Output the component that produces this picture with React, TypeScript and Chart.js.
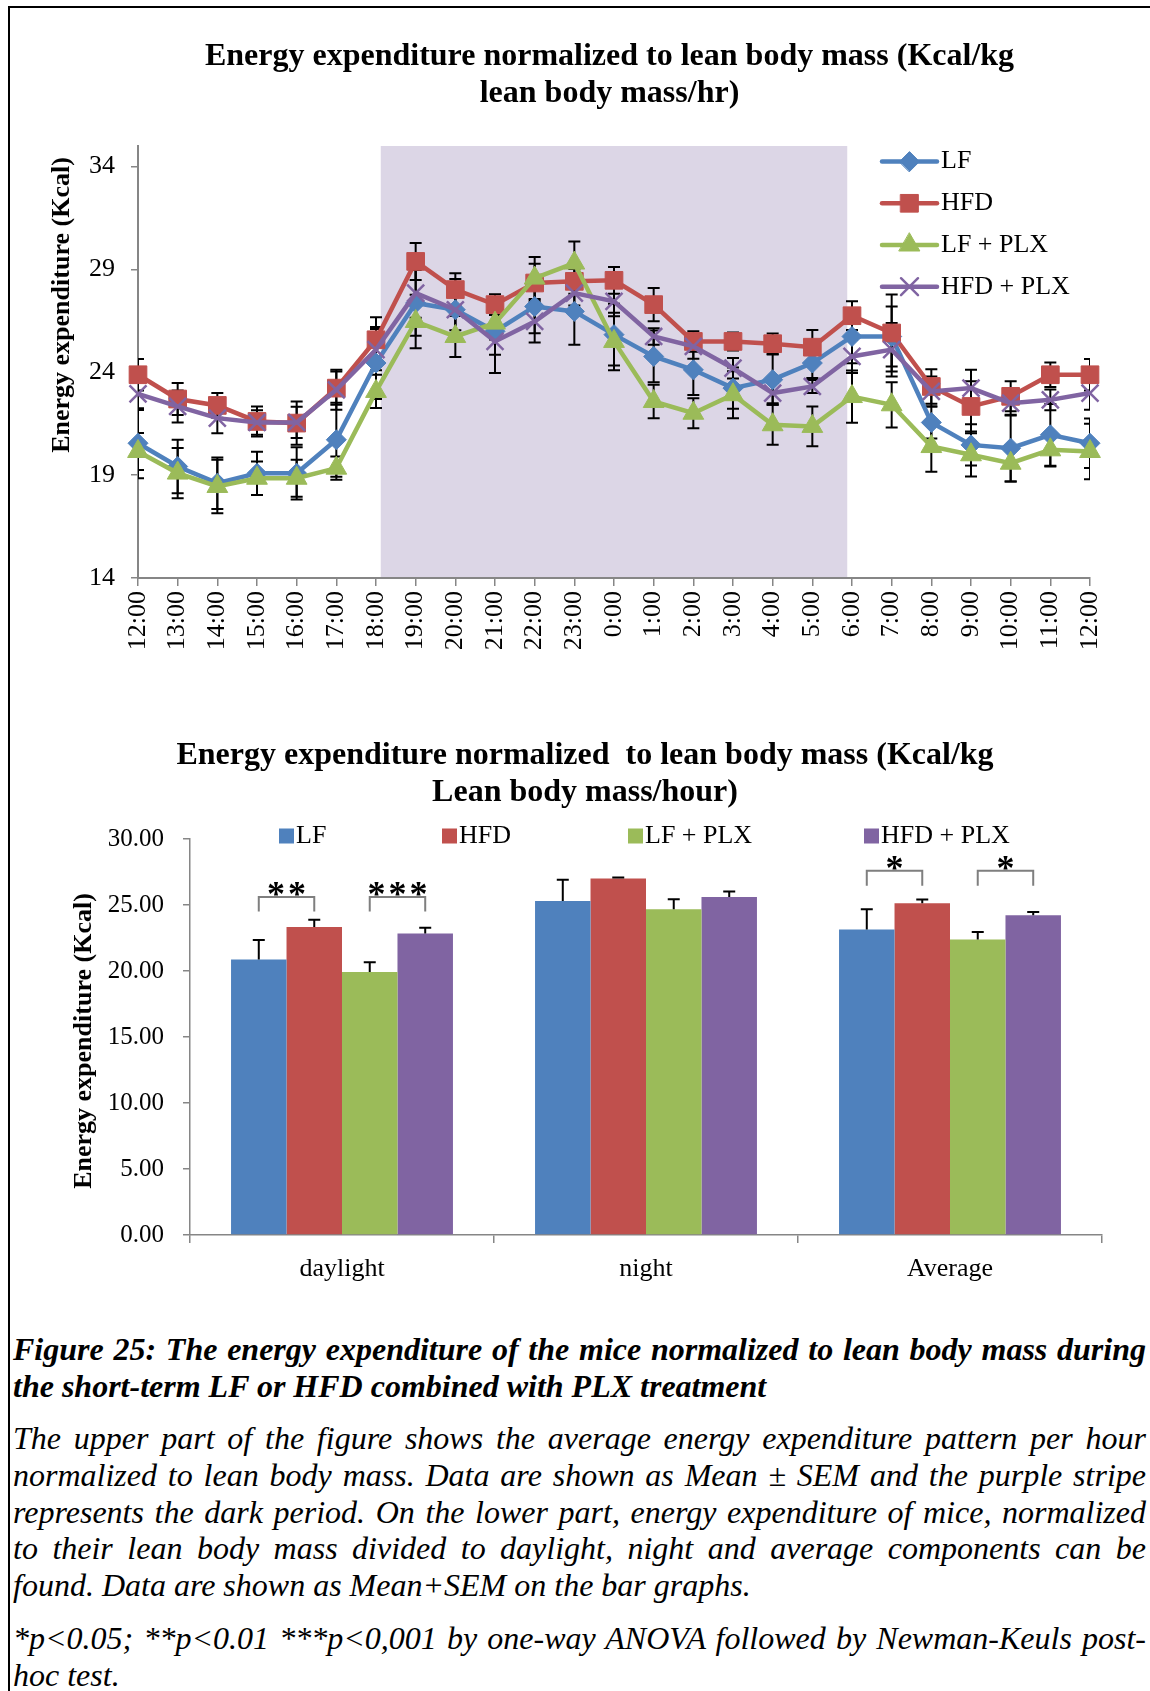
import React, { useEffect, useRef } from 'react';
import { Chart, registerables } from 'chart.js';
import { drawPoint } from 'chart.js/helpers';

Chart.register(...registerables);

// ---------------- data: hourly line chart ----------------
const hours = ['12:00', '13:00', '14:00', '15:00', '16:00', '17:00', '18:00', '19:00', '20:00', '21:00', '22:00', '23:00', '0:00', '1:00', '2:00', '3:00', '4:00', '5:00', '6:00', '7:00', '8:00', '9:00', '10:00', '11:00', '12:00'];
const seriesNames = ['LF', 'HFD', 'LF + PLX', 'HFD + PLX'];

const lf = [20.55, 19.42, 18.61, 19.09, 19.09, 20.72, 24.45, 27.37, 27.04, 25.99, 27.2, 26.96, 25.83, 24.77, 24.12, 23.23, 23.64, 24.45, 25.74, 25.74, 21.56, 20.47, 20.31, 20.96, 20.55];
const hfd = [23.88, 22.7, 22.39, 21.61, 21.53, 23.23, 25.58, 29.39, 28.02, 27.29, 28.34, 28.42, 28.47, 27.29, 25.5, 25.5, 25.39, 25.22, 26.75, 25.91, 23.31, 22.34, 22.83, 23.88, 23.88];
const lfPlx = [20.15, 19.1, 18.45, 18.85, 18.85, 19.34, 23.07, 26.47, 25.74, 26.39, 28.58, 29.31, 25.5, 22.58, 22.01, 22.91, 21.45, 21.37, 22.82, 22.42, 20.39, 19.99, 19.58, 20.23, 20.15];
const hfdPlx = [22.95, 22.34, 21.77, 21.56, 21.56, 23.15, 25.1, 27.85, 27.04, 25.5, 26.47, 27.85, 27.45, 25.74, 25.26, 24.2, 22.99, 23.31, 24.77, 25.1, 23.07, 23.23, 22.5, 22.66, 22.99];

const lfErr = [1.7, 1.3, 1.25, 1.05, 1.27, 1.8, 1.75, 1.6, 1.5, 1.14, 1.3, 1.62, 1.5, 1.26, 1.22, 1.0, 1.22, 0.73, 1.3, 1.46, 0.78, 1.0, 1.62, 1.5, 1.2];
const hfdErr = [0.76, 0.78, 0.6, 0.73, 1.05, 0.81, 1.1, 0.9, 0.8, 0.5, 0.94, 0.6, 0.65, 0.81, 0.5, 0.44, 0.5, 0.84, 0.7, 1.87, 0.84, 1.22, 0.73, 0.6, 0.76];
const lfPlxErr = [0.9, 1.22, 1.3, 0.81, 0.9, 0.57, 0.81, 1.3, 1.0, 0.8, 1.02, 1.05, 1.4, 0.81, 0.73, 1.14, 0.97, 0.97, 1.27, 1.1, 1.22, 1.05, 0.89, 0.81, 1.35];
const hfdPlxErr = [0.78, 0.78, 0.73, 0.6, 0.76, 0.97, 1.0, 1.2, 1.0, 1.54, 1.02, 0.6, 0.73, 0.4, 0.6, 0.5, 0.49, 0.32, 0.81, 1.3, 0.73, 0.89, 0.6, 0.5, 0.81];

const topYTicks = [14, 19, 24, 29, 34];
const darkStartIndex = 6; // 18:00
const darkEndIndex = 18; // 6:00

// ---------------- data: bar chart ----------------
const periods = ['daylight', 'night', 'Average'];
const barLF = [20.87, 25.31, 23.15];
const barHFD = [23.33, 27.01, 25.13];
const barLFPLX = [19.93, 24.68, 22.39];
const barHFDPLX = [22.85, 25.61, 24.22];
const barLFErr = [1.47, 1.6, 1.53];
const barHFDErr = [0.56, 0.07, 0.28];
const barLFPLXErr = [0.74, 0.76, 0.56];
const barHFDPLXErr = [0.43, 0.41, 0.25];

// significance brackets
const sigGroup = [0, 0, 2, 2];
const sigFrom = [0, 2, 0, 2];
const sigTo = [1, 3, 1, 3];
const sigLabel = ['**', '***', '*', '*'];
const sigTop = [25.6, 25.6, 27.6, 27.6];
const sigLeg = [24.5, 24.5, 26.45, 26.45];

// ---------------- text ----------------
const topTitle = ['Energy expenditure normalized to lean body mass (Kcal/kg', 'lean body mass/hr)'];
const barTitle = ['Energy expenditure normalized  to lean body mass (Kcal/kg', 'Lean body mass/hour)'];
const yTitleText = 'Energy expenditure (Kcal)';
const captionLines = ['Figure 25: The energy expenditure of the mice normalized to lean body mass during', 'the short-term LF or HFD combined with PLX treatment'];
const bodyLines = [
  'The upper part of the figure shows the average energy expenditure pattern per hour',
  'normalized to lean body mass. Data are shown as Mean \u00b1 SEM and the purple stripe',
  'represents the dark period. On the lower part, energy expenditure of mice, normalized',
  'to their lean body mass divided to daylight, night and average components can be',
  'found. Data are shown as Mean+SEM on the bar graphs.',
];
const noteLines = ['*p<0.05; **p<0.01 ***p<0,001 by one-way ANOVA followed by Newman-Keuls post-', 'hoc test.'];

// ---------------- styles ----------------
const FONT = "'Liberation Serif', 'Times New Roman', serif";
const GREY = '#868686';
const BAND = '#DCD6E6';
const COLORS = ['#4F81BD', '#C0504D', '#9BBB59', '#8064A2'];
const pointStyles = ['rectRot', 'rect', 'triangle', 'crossRot'];
const pointRadii = [10, 12.5, 12, 12];
const pointBorderWidths = [1, 1, 1, 2.5];

const lineSeries = [lf, hfd, lfPlx, hfdPlx];
const lineErrs = [lfErr, hfdErr, lfPlxErr, hfdPlxErr];
const barSeries = [barLF, barHFD, barLFPLX, barHFDPLX];
const barErrs = [barLFErr, barHFDErr, barLFPLXErr, barHFDPLXErr];

const darkBandPlugin = {
  id: 'darkBand',
  beforeDraw(chart: any) {
    const { ctx, chartArea, scales } = chart;
    const xs = scales.x;
    const step = xs.getPixelForValue(1) - xs.getPixelForValue(0);
    const x1 = xs.getPixelForValue(darkStartIndex) + step * 0.12;
    const x2 = xs.getPixelForValue(darkEndIndex) - step * 0.12;
    ctx.save();
    ctx.fillStyle = BAND;
    ctx.fillRect(x1, chartArea.top, x2 - x1, chartArea.bottom - chartArea.top);
    ctx.restore();
  },
};

const lineErrorPlugin = {
  id: 'lineErr',
  beforeDatasetsDraw(chart: any) {
    const { ctx, chartArea, scales } = chart;
    const xs = scales.x;
    const ys = scales.y;
    ctx.save();
    ctx.beginPath();
    ctx.rect(chartArea.left, chartArea.top, chartArea.right - chartArea.left, chartArea.bottom - chartArea.top);
    ctx.clip();
    ctx.strokeStyle = '#000';
    ctx.lineWidth = 2;
    lineSeries.forEach((vals, si) => {
      vals.forEach((v, i) => {
        const e = lineErrs[si][i];
        const px = xs.getPixelForValue(i);
        const yt = ys.getPixelForValue(v + e);
        const yb = ys.getPixelForValue(v - e);
        ctx.beginPath();
        ctx.moveTo(px, yt);
        ctx.lineTo(px, yb);
        ctx.moveTo(px - 6, yt);
        ctx.lineTo(px + 6, yt);
        ctx.moveTo(px - 6, yb);
        ctx.lineTo(px + 6, yb);
        ctx.stroke();
      });
    });
    ctx.restore();
  },
};

const topLegendPlugin = {
  id: 'topLegend',
  afterDraw(chart: any) {
    const { ctx, chartArea } = chart;
    const x0 = chartArea.right - 208;
    const x1 = chartArea.right - 153;
    const xm = (x0 + x1) / 2;
    const xt = chartArea.right - 149;
    seriesNames.forEach((name, i) => {
      const yy = chartArea.top + 15.6 + i * 41.7;
      ctx.save();
      ctx.strokeStyle = COLORS[i];
      ctx.lineWidth = 4.5;
      ctx.lineCap = 'round';
      ctx.beginPath();
      ctx.moveTo(x0, yy);
      ctx.lineTo(x1, yy);
      ctx.stroke();
      ctx.fillStyle = COLORS[i];
      ctx.strokeStyle = COLORS[i];
      ctx.lineWidth = pointBorderWidths[i];
      drawPoint(ctx, { pointStyle: pointStyles[i], radius: pointRadii[i], rotation: 0, borderWidth: pointBorderWidths[i] } as any, xm, yy);
      ctx.fillStyle = '#000';
      ctx.font = `26px ${FONT}`;
      ctx.textBaseline = 'middle';
      ctx.textAlign = 'left';
      ctx.fillText(name, xt, yy);
      ctx.restore();
    });
  },
};

function yTitlePlugin(id: string, dx: number, dy: number) {
  return {
    id,
    afterDraw(chart: any) {
      const { ctx, chartArea } = chart;
      const cx = chartArea.left + dx;
      const cy = (chartArea.top + chartArea.bottom) / 2 + dy;
      ctx.save();
      ctx.translate(cx, cy);
      ctx.rotate(-Math.PI / 2);
      ctx.fillStyle = '#000';
      ctx.font = `bold 26px ${FONT}`;
      ctx.textAlign = 'center';
      ctx.textBaseline = 'middle';
      ctx.fillText(yTitleText, 0, 0);
      ctx.restore();
    },
  };
}

const barLegendOffsets = [89, 252, 438, 674];
const barLegendPlugin = {
  id: 'barLegend',
  afterDraw(chart: any) {
    const { ctx, chartArea } = chart;
    const yy = chartArea.top - 3;
    seriesNames.forEach((name, i) => {
      const x = chartArea.left + barLegendOffsets[i];
      ctx.save();
      ctx.fillStyle = COLORS[i];
      ctx.fillRect(x, yy - 7.5, 15, 15);
      ctx.fillStyle = '#000';
      ctx.font = `26px ${FONT}`;
      ctx.textBaseline = 'middle';
      ctx.textAlign = 'left';
      ctx.fillText(name, x + 17, yy);
      ctx.restore();
    });
  },
};

const barErrorPlugin = {
  id: 'barErr',
  afterDatasetsDraw(chart: any) {
    const { ctx, scales } = chart;
    const ys = scales.y;
    ctx.save();
    ctx.strokeStyle = '#000';
    ctx.lineWidth = 2;
    barSeries.forEach((vals, di) => {
      const meta = chart.getDatasetMeta(di);
      vals.forEach((v, i) => {
        const bar = meta.data[i];
        const yTop = ys.getPixelForValue(v + barErrs[di][i]);
        ctx.beginPath();
        ctx.moveTo(bar.x, bar.y);
        ctx.lineTo(bar.x, yTop);
        ctx.moveTo(bar.x - 6, yTop);
        ctx.lineTo(bar.x + 6, yTop);
        ctx.stroke();
      });
    });
    ctx.restore();
  },
};

const sigPlugin = {
  id: 'sig',
  afterDatasetsDraw(chart: any) {
    const { ctx, scales } = chart;
    const ys = scales.y;
    sigLabel.forEach((label, k) => {
      const xa = chart.getDatasetMeta(sigFrom[k]).data[sigGroup[k]].x;
      const xb = chart.getDatasetMeta(sigTo[k]).data[sigGroup[k]].x;
      const yt = ys.getPixelForValue(sigTop[k]);
      const yl = ys.getPixelForValue(sigLeg[k]);
      ctx.save();
      ctx.strokeStyle = '#7F7F7F';
      ctx.lineWidth = 2;
      ctx.beginPath();
      ctx.moveTo(xa, yl);
      ctx.lineTo(xa, yt);
      ctx.lineTo(xb, yt);
      ctx.lineTo(xb, yl);
      ctx.stroke();
      ctx.fillStyle = '#000';
      ctx.font = `bold 36px ${FONT}`;
      (ctx as any).letterSpacing = '3px';
      ctx.textAlign = 'center';
      ctx.textBaseline = 'alphabetic';
      ctx.fillText(label, (xa + xb) / 2 + 1.5, yt + 9);
      ctx.restore();
    });
  },
};

function lineConfig(): any {
  return {
    type: 'line',
    data: {
      labels: hours,
      datasets: lineSeries.map((d, i) => ({
        label: seriesNames[i],
        data: d,
        borderColor: COLORS[i],
        backgroundColor: COLORS[i],
        borderWidth: 4.5,
        pointStyle: pointStyles[i],
        pointRadius: pointRadii[i],
        pointBackgroundColor: COLORS[i],
        pointBorderColor: COLORS[i],
        pointBorderWidth: pointBorderWidths[i],
        tension: 0,
        clip: false,
        order: 3 - i,
      })),
    },
    options: {
      responsive: false,
      animation: false,
      devicePixelRatio: 1,
      events: [],
      layout: { padding: { left: 28, right: 60, top: 146, bottom: 22 } },
      plugins: { legend: { display: false }, tooltip: { enabled: false }, title: { display: false } },
      scales: {
        x: {
          type: 'category',
          offset: false,
          grid: { display: true, drawOnChartArea: false, drawTicks: true, tickLength: 8, color: GREY, lineWidth: 1.5 },
          border: { display: true, color: GREY, width: 2 },
          ticks: { autoSkip: false, maxRotation: 90, minRotation: 90, padding: 5, color: '#000', font: { family: FONT, size: 26 } },
          afterFit: (s: any) => { s.height = 80; },
        },
        y: {
          type: 'linear',
          min: 14,
          max: 35,
          afterBuildTicks: (s: any) => { s.ticks = topYTicks.map((v) => ({ value: v })); },
          grid: { display: true, drawOnChartArea: false, drawTicks: true, tickLength: 7, color: GREY, lineWidth: 1.5 },
          border: { display: true, color: GREY, width: 2 },
          ticks: { padding: 16, color: '#000', font: { family: FONT, size: 26 } },
          afterFit: (s: any) => { s.width = 110; },
        },
      },
    },
    plugins: [darkBandPlugin, lineErrorPlugin, topLegendPlugin, yTitlePlugin('yTitleTop', -75.4, -57)],
  };
}

function barConfig(): any {
  return {
    type: 'bar',
    data: {
      labels: periods,
      datasets: barSeries.map((d, i) => ({
        label: seriesNames[i],
        data: d,
        backgroundColor: COLORS[i],
        borderWidth: 0,
        barPercentage: 1,
        categoryPercentage: 0.73,
      })),
    },
    options: {
      responsive: false,
      animation: false,
      devicePixelRatio: 1,
      events: [],
      layout: { padding: { left: 60, right: 48, top: 159, bottom: 15 } },
      plugins: { legend: { display: false }, tooltip: { enabled: false }, title: { display: false } },
      scales: {
        x: {
          offset: true,
          grid: { display: true, offset: true, drawOnChartArea: false, drawTicks: true, tickLength: 8, color: GREY, lineWidth: 1.5 },
          border: { display: true, color: GREY, width: 1.5 },
          ticks: { padding: 11, color: '#000', font: { family: FONT, size: 26 } },
          afterFit: (s: any) => { s.height = 50; },
        },
        y: {
          min: 0,
          max: 30,
          grid: { display: true, drawOnChartArea: false, drawTicks: true, tickLength: 7, color: GREY, lineWidth: 1.5 },
          border: { display: true, color: GREY, width: 1.5 },
          ticks: { stepSize: 5, padding: 19, color: '#000', font: { family: FONT, size: 25 }, callback: (v: any) => Number(v).toFixed(2) },
          afterFit: (s: any) => { s.width = 130; },
        },
      },
    },
    plugins: [barErrorPlugin, sigPlugin, barLegendPlugin, yTitlePlugin('yTitleBar', -106, 4)],
  };
}

const LH = 36.7;

function TextLines({ lines, top, style, justifyLast }: { lines: string[]; top: number; style: any; justifyLast: boolean }) {
  return (
    <div style={{ position: 'absolute', left: 13, top, width: 1133, ...style }}>
      {lines.map((t, i) => {
        const justify = i < lines.length - 1 || justifyLast;
        return (
          <div
            key={i}
            style={{
              whiteSpace: 'nowrap',
              height: LH,
              lineHeight: `${LH}px`,
              textAlign: justify ? 'justify' : 'left',
              textAlignLast: justify ? 'justify' : 'left',
            } as any}
          >
            {t}
          </div>
        );
      })}
    </div>
  );
}

export default function App() {
  const topRef = useRef<HTMLCanvasElement>(null);
  const barRef = useRef<HTMLCanvasElement>(null);

  useEffect(() => {
    const c1 = new Chart(topRef.current as HTMLCanvasElement, lineConfig());
    const c2 = new Chart(barRef.current as HTMLCanvasElement, barConfig());
    return () => {
      c1.destroy();
      c2.destroy();
    };
  }, []);

  const titleStyle: any = {
    position: 'absolute',
    width: 1000,
    textAlign: 'center',
    fontFamily: FONT,
    fontWeight: 'bold',
    fontSize: 32,
    lineHeight: '37px',
    color: '#000',
    whiteSpace: 'pre',
  };

  return (
    <div style={{ position: 'absolute', left: 0, top: 0, width: 1150, height: 1691, background: '#fff', fontFamily: FONT, color: '#000', overflow: 'hidden' }}>
      <div style={{ position: 'absolute', left: 8, top: 6, width: 1142, height: 2, background: '#000' }} />
      <div style={{ position: 'absolute', left: 8, top: 6, width: 2, height: 1685, background: '#000' }} />

      <canvas ref={topRef} width={1150} height={680} style={{ position: 'absolute', left: 0, top: 0, width: 1150, height: 680 }} />
      <canvas ref={barRef} width={1150} height={620} style={{ position: 'absolute', left: 0, top: 680, width: 1150, height: 620 }} />

      <div style={{ ...titleStyle, left: 109.5, top: 36.3 }}>
        {topTitle.map((t, i) => (
          <div key={i}>{t}</div>
        ))}
      </div>
      <div style={{ ...titleStyle, left: 85, top: 735.3 }}>
        {barTitle.map((t, i) => (
          <div key={i}>{t}</div>
        ))}
      </div>

      <TextLines lines={captionLines} top={1331.4} justifyLast={false} style={{ fontFamily: FONT, fontSize: 32, fontStyle: 'italic', fontWeight: 'bold' }} />
      <TextLines lines={bodyLines} top={1420.4} justifyLast={false} style={{ fontFamily: FONT, fontSize: 32, fontStyle: 'italic' }} />
      <TextLines lines={noteLines} top={1620.4} justifyLast={false} style={{ fontFamily: FONT, fontSize: 32, fontStyle: 'italic' }} />
    </div>
  );
}
